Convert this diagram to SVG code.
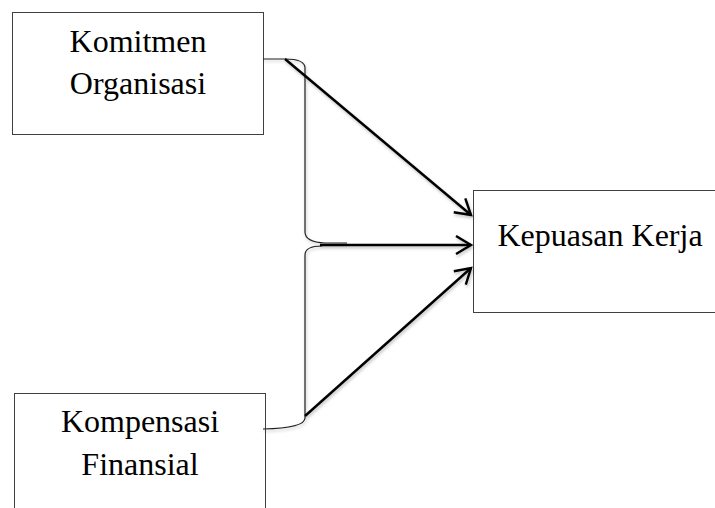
<svg xmlns="http://www.w3.org/2000/svg" width="715" height="508" viewBox="0 0 715 508">
<style>
.box{fill:#fff;stroke:#404040;stroke-width:1}
.lbl{font-family:"Liberation Serif","Times New Roman",serif;font-size:32px;fill:#000;text-anchor:middle}
.brace{fill:none;stroke:#222;stroke-width:1.2}
.arr{fill:none;stroke:#000;stroke-width:2.4;marker-end:url(#ah)}
</style>
<defs>
<marker id="ah" markerUnits="userSpaceOnUse" markerWidth="30" markerHeight="30" viewBox="-20 -15 30 30" refX="0" refY="0" orient="auto">
<path d="M-15,-9 L0,0 L-15,9" fill="none" stroke="#000" stroke-width="2.4" stroke-linejoin="miter"/>
</marker>
<filter id="sh" x="-10%" y="-10%" width="120%" height="120%">
<feDropShadow dx="1" dy="2" stdDeviation="1.5" flood-color="#000" flood-opacity="0.25"/>
</filter>
</defs>
<rect width="715" height="508" fill="#fff"/>
<g id="komitmen">
<rect class="box" x="12.5" y="12.5" width="251" height="122"/>
<text class="lbl" x="138" y="52">Komitmen</text>
<text class="lbl" x="138" y="94">Organisasi</text>
</g>
<g id="kompensasi">
<rect class="box" x="14.5" y="393.5" width="251" height="130"/>
<text class="lbl" x="140" y="432">Kompensasi</text>
<text class="lbl" x="140" y="475">Finansial</text>
</g>
<g id="kepuasan">
<rect class="box" x="473.5" y="190.5" width="260" height="122"/>
<text class="lbl" x="600" y="246">Kepuasan Kerja</text>
</g>
<g id="connectors" filter="url(#sh)">
<path class="brace" d="M263,59 L285,59 Q305,59 305,68 L305,232 Q305,242 325,243 L347,243"/>
<path class="brace" d="M322,246 Q305,246 305,255 L305,418 Q305,428 263,429"/>
<line class="arr" x1="285" y1="59" x2="471" y2="215"/>
<line class="arr" x1="320" y1="245" x2="471" y2="245"/>
<line class="arr" x1="305" y1="416" x2="471" y2="268"/>
</g>
</svg>
